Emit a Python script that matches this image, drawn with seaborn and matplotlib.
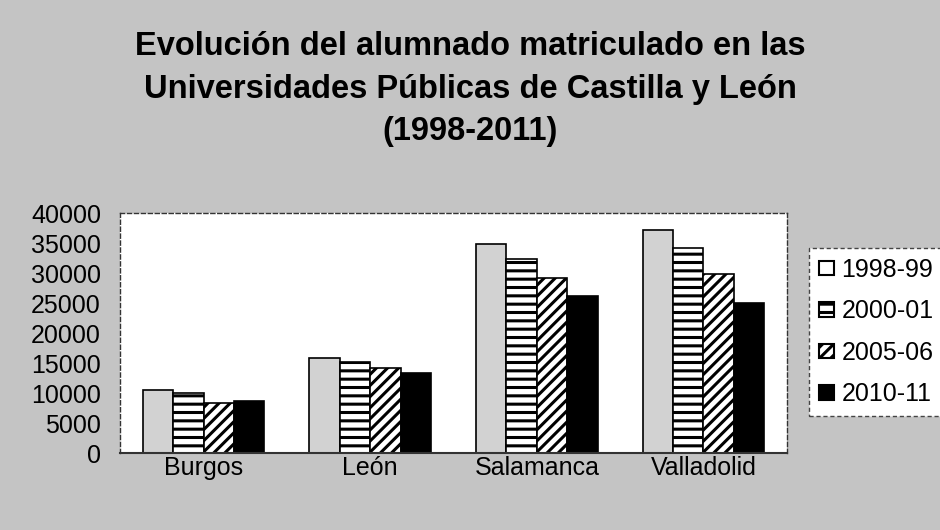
import pandas as pd
import matplotlib
matplotlib.use("Agg")
import matplotlib.pyplot as plt
import seaborn as sns
from matplotlib.patches import Patch

# data (alumnos matriculados)
universidades = ["Burgos", "León", "Salamanca", "Valladolid"]
cursos = ["1998-99", "2000-01", "2005-06", "2010-11"]
c_1998_99 = [10600, 15900, 34900, 37200]
c_2000_01 = [10100, 15200, 32400, 34200]
c_2005_06 = [8400, 14200, 29200, 29900]
c_2010_11 = [8700, 13300, 26200, 25000]
series = [c_1998_99, c_2000_01, c_2005_06, c_2010_11]

rows = []
for c, vals in zip(cursos, series):
    for u, v in zip(universidades, vals):
        rows.append({"universidad": u, "curso": c, "alumnos": v})
df = pd.DataFrame(rows)

sns.set_theme(style="white")
plt.rcParams["font.family"] = ["Liberation Sans", "DejaVu Sans"]
plt.rcParams["hatch.linewidth"] = 2.2
plt.rcParams["text.color"] = "black"
plt.rcParams["xtick.color"] = "black"
plt.rcParams["ytick.color"] = "black"

bg = "#c4c4c4"
fig = plt.figure(figsize=(9.4, 5.3), dpi=100, facecolor=bg)
ax = fig.add_axes([0.128, 0.145, 0.709, 0.453])

sns.barplot(data=df, x="universidad", y="alumnos", hue="curso",
            order=universidades, hue_order=cursos, width=0.73,
            ax=ax, legend=False, errorbar=None)

styles = [("#d2d2d2", ""), ("white", "--"), ("white", "///"), ("black", "")]
for cont, (fc, h) in zip(ax.containers, styles):
    for bar in cont:
        bar.set_facecolor(fc)
        bar.set_hatch(h)
        bar.set_edgecolor("black")
        bar.set_linewidth(1.2)

ax.set_ylim(0, 40000)
ax.set_yticks(range(0, 40001, 5000))
ax.set_xlabel("")
ax.set_ylabel("")
ax.tick_params(axis="y", length=0, pad=14, labelsize=18)
ax.tick_params(axis="x", length=0, pad=2, labelsize=18)
for s in ["left", "top", "right"]:
    ax.spines[s].set_linestyle((0, (3, 2)))
    ax.spines[s].set_color("#333333")
    ax.spines[s].set_linewidth(1)
ax.spines["bottom"].set_color("#333333")
ax.spines["bottom"].set_linewidth(1.5)
ax.set_facecolor("white")

handles = [Patch(facecolor="white" if i == 0 else fc, hatch=h,
                 edgecolor="black", linewidth=1.5)
           for i, (fc, h) in enumerate(styles)]
leg = ax.legend(handles, cursos, loc="upper left", bbox_to_anchor=(1.034, 0.855),
                frameon=True, fontsize=18, handlelength=0.6, handleheight=0.5,
                handletextpad=0.28, labelspacing=0.7, borderpad=0.4,
                fancybox=False, borderaxespad=0)
leg.get_frame().set_edgecolor("#444444")
leg.get_frame().set_linestyle((0, (3, 2)))
leg.get_frame().set_facecolor("white")
leg.get_frame().set_alpha(1)

fig.text(0.5, 0.832,
         "Evolución del alumnado matriculado en las\n"
         "Universidades Públicas de Castilla y León\n(1998-2011)",
         ha="center", va="center", fontsize=23.5, fontweight="bold",
         linespacing=1.47)

fig.savefig("out.png", dpi=100, facecolor=bg)
